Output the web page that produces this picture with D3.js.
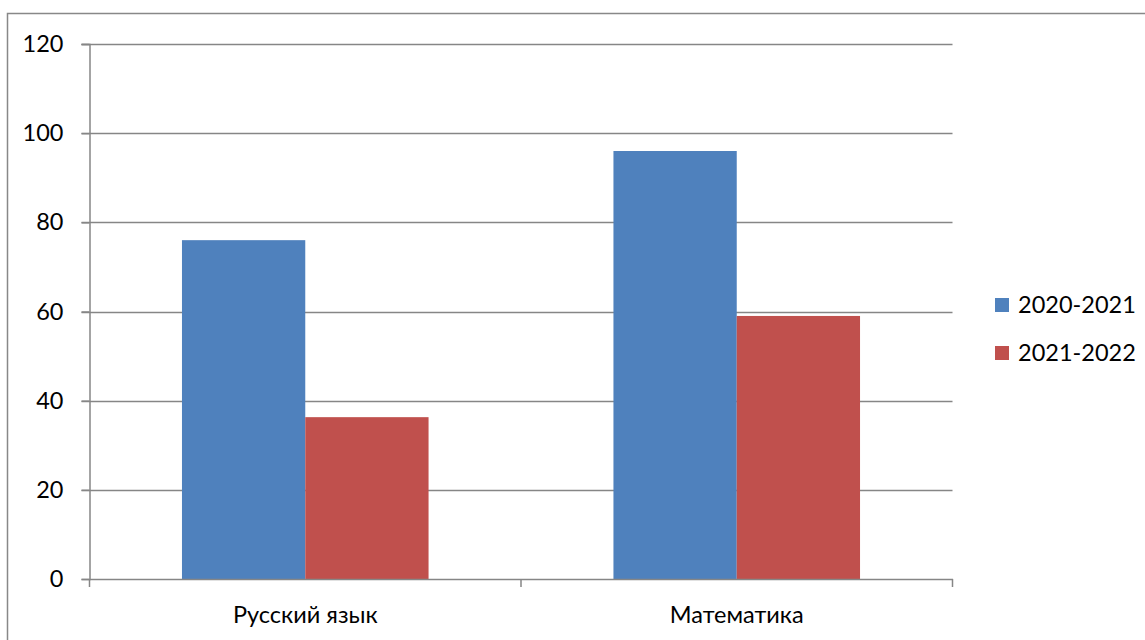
<!DOCTYPE html>
<html><head><meta charset="utf-8">
<script src="https://cdn.jsdelivr.net/npm/d3@7"></script>
<style>body{margin:0;background:#fff}svg{display:block}text{font-family:Lato,"Open Sans",sans-serif;fill:#000}</style>
</head><body><svg id="c" width="1145" height="640"></svg>
<script>
const categories = ["Русский язык", "Математика"];
const seriesNames = ["2020-2021", "2021-2022"];
const series2020 = [76, 96];
const series2021 = [36.3, 59];
const yTicks = [0, 20, 40, 60, 80, 100, 120];
const colors = ["#4F81BD", "#C0504D"];
const FS = 23.5;

const svg = d3.select("#c");
svg.append("rect").attr("x",7.5).attr("y",13.5).attr("width",1150).attr("height",640)
  .attr("fill","#fff").attr("stroke","#888").attr("stroke-width",1.5);

const L=89.5, R=952.5, T=44, B=579;
const y = d3.scaleLinear().domain([0,120]).range([B,T]);
const x0 = d3.scaleBand().domain(categories).range([L,R]).paddingInner(0.4285).paddingOuter(0.2143);
const x1 = d3.scaleBand().domain(seriesNames).range([0,x0.bandwidth()]);

// gridlines
svg.append("g").selectAll("line").data(yTicks.filter(d=>d>0)).join("line")
  .attr("x1",L-8).attr("x2",R).attr("y1",d=>Math.round(y(d))+0.5).attr("y2",d=>Math.round(y(d))+0.5)
  .attr("stroke","#868686").attr("stroke-width",1.5);

const data = categories.map((c,i)=>({c, vals:[series2020[i], series2021[i]]}));
svg.append("g").selectAll("g").data(data).join("g")
  .attr("transform",d=>`translate(${x0(d.c)},0)`)
  .selectAll("rect").data(d=>d.vals.map((v,j)=>({v,s:seriesNames[j],j}))).join("rect")
  .attr("x",d=>x1(d.s)).attr("width",x1.bandwidth())
  .attr("y",d=>y(d.v)).attr("height",d=>B-y(d.v)).attr("fill",d=>colors[d.j]);

// y axis
const yAxis = svg.append("g").attr("transform",`translate(${L},0)`)
  .call(d3.axisLeft(y).tickValues(yTicks).tickSize(8).tickPadding(18).tickFormat(d3.format("d")));
yAxis.select(".domain").attr("stroke","#868686").attr("stroke-width",1.5);
yAxis.selectAll(".tick line").attr("stroke","#868686").attr("stroke-width",1.5);
yAxis.selectAll("text").attr("font-size",FS).attr("font-family","Lato");

// x axis
const xAxis = svg.append("g").attr("transform",`translate(0,${B})`)
  .call(d3.axisBottom(x0).tickSize(0).tickPadding(27));
xAxis.select(".domain").attr("stroke","#868686").attr("stroke-width",1.5);
xAxis.selectAll("text").attr("font-size",FS).attr("font-family","Lato");
// category boundary ticks
const bounds = [L, (x0(categories[0])+x0.bandwidth()+x0(categories[1]))/2, R];
svg.append("g").selectAll("line").data(bounds).join("line")
  .attr("x1",d=>d).attr("x2",d=>d).attr("y1",B).attr("y2",B+8)
  .attr("stroke","#868686").attr("stroke-width",1.5);

// legend
const lg = svg.append("g").selectAll("g").data(seriesNames).join("g")
  .attr("transform",(d,i)=>`translate(995,${298+i*48})`);
lg.append("rect").attr("width",14).attr("height",14).attr("fill",(d,i)=>colors[i]);
lg.append("text").attr("x",23).attr("y",7).attr("dy","0.35em").attr("font-size",FS).text(d=>d);
</script></body></html>
